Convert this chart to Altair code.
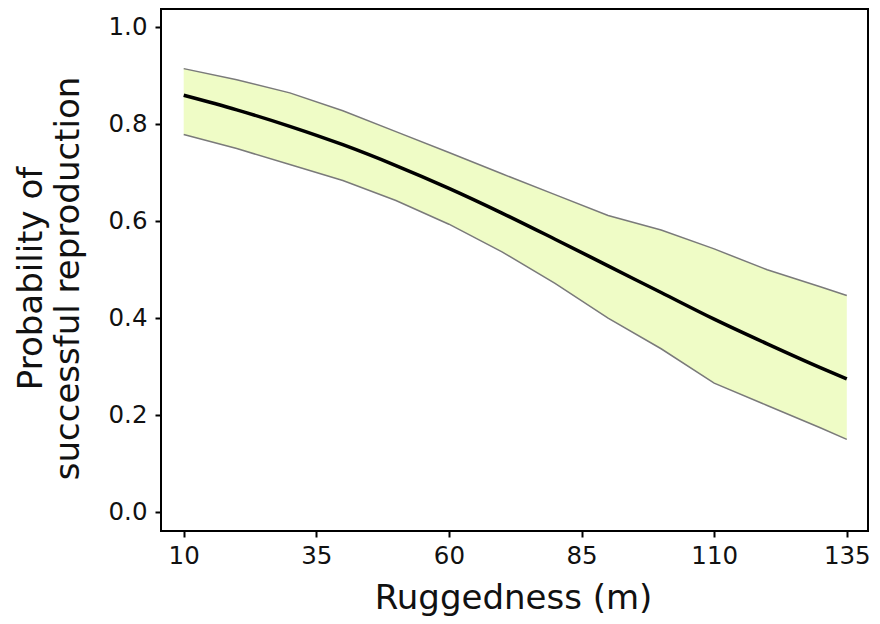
import altair as alt
import pandas as pd

# Ruggedness (m)
rugged = [10, 20, 30, 40, 50, 60, 70, 80, 90, 100, 110, 120, 130, 135]
# fitted probability of successful reproduction
fit = [0.860, 0.830, 0.796, 0.758, 0.715, 0.668, 0.617, 0.563, 0.508, 0.453, 0.398, 0.347, 0.298, 0.275]
# confidence band
lower = [0.779, 0.750, 0.717, 0.684, 0.643, 0.594, 0.537, 0.472, 0.400, 0.337, 0.266, 0.220, 0.174, 0.150]
upper = [0.915, 0.892, 0.865, 0.828, 0.785, 0.742, 0.698, 0.655, 0.612, 0.582, 0.543, 0.500, 0.465, 0.447]

x_ticks = [10, 35, 60, 85, 110, 135]
y_ticks = [0.0, 0.2, 0.4, 0.6, 0.8, 1.0]

df = pd.DataFrame({"x": rugged, "fit": fit, "lower": lower, "upper": upper})

FONT = "DejaVu Sans"

xscale = alt.Scale(domain=[5.72, 139.0], nice=False, zero=False)
yscale = alt.Scale(domain=[-0.039, 1.038], nice=False, zero=False)

xaxis = alt.Axis(
    values=x_ticks, title="Ruggedness (m)", format="d",
    titleX=352, titleY=77, titleAlign="center", titleBaseline="alphabetic",
    labelPadding=7,
)
yaxis = alt.Axis(
    values=y_ticks, title=["Probability of", "successful reproduction"], format=".1f",
    titleX=-120, titleY=269, titleAngle=-90, titleAlign="center",
    titleBaseline="alphabetic", titleLineHeight=37, labelPadding=8,
)

base = alt.Chart(df)

band = base.mark_area(color="#EFFCC6", opacity=1).encode(
    x=alt.X("x:Q", scale=xscale, axis=xaxis),
    y=alt.Y("lower:Q", scale=yscale, axis=yaxis),
    y2="upper:Q",
)
lo_line = base.mark_line(color="#7a7a7a", strokeWidth=1.5).encode(
    x=alt.X("x:Q", scale=xscale), y=alt.Y("lower:Q", scale=yscale)
)
hi_line = base.mark_line(color="#7a7a7a", strokeWidth=1.5).encode(
    x=alt.X("x:Q", scale=xscale), y=alt.Y("upper:Q", scale=yscale)
)
fit_line = base.mark_line(color="black", strokeWidth=3.5, interpolate="monotone").encode(
    x=alt.X("x:Q", scale=xscale), y=alt.Y("fit:Q", scale=yscale)
)

chart = (
    alt.layer(band, lo_line, hi_line, fit_line)
    .properties(
        width=707, height=522,
        autosize=alt.AutoSizeParams(type="none"),
        padding={"left": 153, "top": 1, "right": 4, "bottom": 85},
        background="white",
    )
    .configure_view(stroke="black", strokeWidth=2)
    .configure_axis(
        grid=False, domain=False,
        tickColor="black", tickWidth=2, tickSize=6,
        labelFont=FONT, labelFontSize=24.5, labelColor="#111111",
        titleFont=FONT, titleFontSize=34, titleFontWeight="normal", titleColor="#111111",
    )
)

chart.save("out.html", embed_options={"renderer": "svg", "actions": False})
